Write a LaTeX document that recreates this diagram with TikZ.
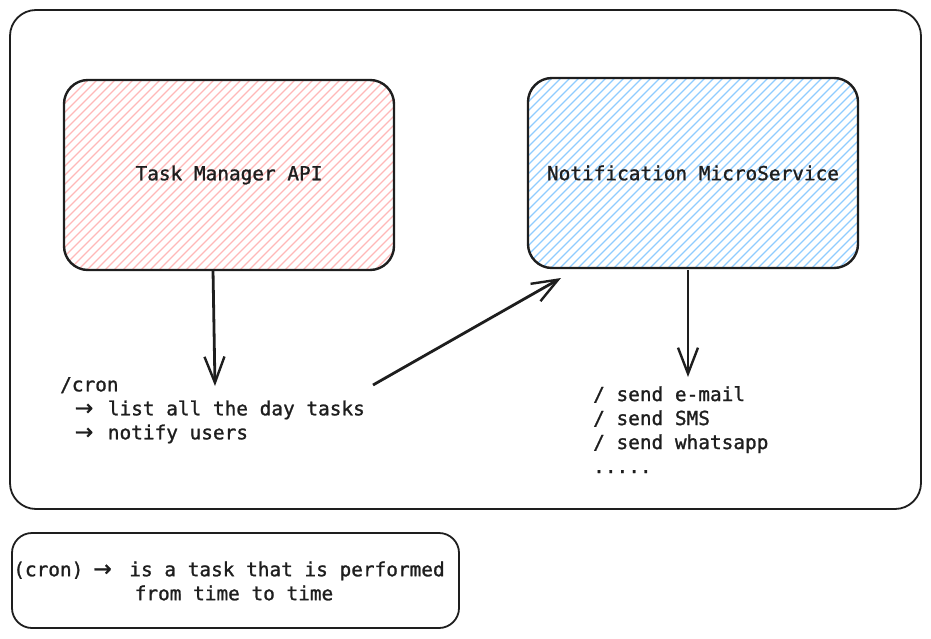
\documentclass[tikz,border=0pt]{standalone}
\usepackage{fontspec}
\setmonofont{DejaVu Sans Mono}[FakeBold=1.2]
\newfontfamily\arrowfont{DejaVu Sans}[FakeBold=1.2]
\usetikzlibrary{arrows.meta}
\definecolor{ink}{HTML}{1E1E1E}
\definecolor{pinkh}{HTML}{FFB8B8}
\definecolor{blueh}{HTML}{8FCCFF}
\newcommand\arr[2]{\makebox[#2][l]{\hspace{#1}{\arrowfont\fontsize{22}{24}\selectfont →}}}
\begin{document}
\begin{tikzpicture}[x=1pt,y=-1pt,
 txt/.style={font=\ttfamily\fontsize{19.4}{24}\selectfont, text=ink, inner sep=0pt},
 hatch/.style={path picture={\foreach \k in {-220,-211,...,340}{\draw[#1, line width=1.1pt] ([xshift=\k pt]path picture bounding box.south west) -- ++(260,-260);}}},
 box/.style={draw=ink, line width=2.4pt, rounded corners=24pt, minimum width=330pt, minimum height=190pt, inner sep=0pt, txt, hatch=#1},
 frame/.style={draw=ink, line width=1.8pt, inner sep=0pt},
 conn/.style={draw=ink, line width=2.8pt, -{Straight Barb[length=26pt,width=20pt,line width=2.4pt]}}
]
\useasboundingbox (0,0) rectangle (931,639);
\node[frame, rounded corners=26pt, minimum width=911pt, minimum height=499pt] (outer) at (465.5,259.5) {};
\node[box=pinkh] (tm) at (229,175) {Task Manager API};
\node[box=blueh] (ns) at (693,173) {Notification MicroService};
\node[txt, align=left, anchor=north west] (cron) at (60,377) {/cron\\ \hphantom{x}\arr{3pt}{36pt}list all the day tasks\\ \hphantom{x}\arr{3pt}{36pt}notify users};
\node[txt, align=left, anchor=north west] (send) at (593,386) {/ send e-mail\\/ send SMS\\/ send whatsapp\\.....};
\coordinate (a1s) at (213,270);
\coordinate (a1e) at (215,386);
\coordinate (a2s) at (373,385);
\coordinate (a2e) at (561,278);
\coordinate (a3s) at (688,270);
\coordinate (a3e) at (688,377);
\draw[conn] (a1s) -- (a1e);
\draw[conn] (a2s) -- (a2e);
\draw[conn] (a3s) -- (a3e);
\node[frame, rounded corners=20pt, minimum width=447pt, minimum height=95pt] (note) at (235.5,580.5) {};
\node[txt, align=center] (notetxt) at (229,581) {(cron)\arr{10pt}{46pt}is a task that is performed\\\hspace{10pt}from time to time};
\end{tikzpicture}
\end{document}
